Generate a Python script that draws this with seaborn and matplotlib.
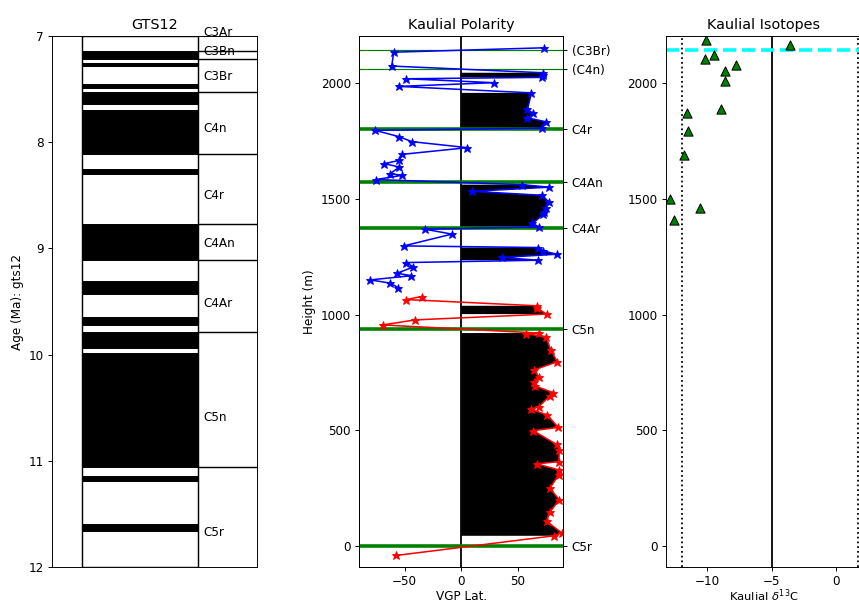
import numpy as np
import pandas as pd
import matplotlib
matplotlib.use("Agg")
import matplotlib.pyplot as plt
import seaborn as sns

sns.set_style("ticks", {"axes.edgecolor": "black", "text.color": "black",
                        "axes.labelcolor": "black", "xtick.color": "black",
                        "ytick.color": "black"})
plt.rcParams["font.family"] = ["DejaVu Sans"]

# ---- GTS12 timescale (Ma) ----
normal_top = [7.140, 7.251, 7.454, 7.528, 7.695, 8.254, 8.771, 9.311, 9.647, 9.786, 9.984, 11.146, 11.592]
normal_base = [7.212, 7.285, 7.489, 7.642, 8.108, 8.300, 9.105, 9.426, 9.721, 9.937, 11.056, 11.188, 11.657]
chron_bounds = [7.140, 7.212, 7.528, 8.108, 8.771, 9.105, 9.786, 11.056]
chron_names = ["C3Ar", "C3Bn", "C3Br", "C4n", "C4r", "C4An", "C4Ar", "C5n", "C5r"]
chron_label_age = [6.965, 7.15, 7.38, 7.875, 8.505, 8.95, 9.515, 10.595, 11.675]

# ---- Kaulial section: VGP latitude vs height ----
upper_h = [1116, 1136, 1150, 1168, 1179, 1206, 1225, 1235, 1247, 1261, 1276, 1290, 1297,
           1348, 1369, 1379, 1394, 1434, 1444, 1463, 1487, 1516, 1533, 1551, 1562, 1584,
           1602, 1610, 1638, 1653, 1667, 1693, 1722, 1748, 1769, 1797, 1806, 1834, 1851,
           1870, 1888, 1959, 1987, 2003, 2020, 2026, 2036, 2046, 2075, 2135, 2154]
upper_vgp = [-55.5, -62.8, -80.3, -44.2, -56.6, -42.2, -48.7, 67.3, 35.9, 84.1, 72.2, 67.3, -50.8,
             -8.3, -31.9, 68.7, 62.8, 72.5, 73.1, 74.3, 77.3, 71.1, 9.7, 77.3, 53.6, -75.2,
             -52.5, -62.6, -54.6, -67.9, -54.6, -52.2, 5.3, -43.7, -54.6, -76.1, 70.8, 74.6, 58.4,
             63.4, 58.4, 61.9, -55.2, 28.9, -48.7, 71.5, 72.0, 71.8, -61.4, -59.6, 73.1]
lower_h = [-42, 43, 56, 106, 145, 199, 249, 308, 328, 354, 364, 415, 438, 498, 512, 566,
           590, 602, 648, 662, 692, 707, 731, 760, 796, 847, 905, 916, 920, 955, 977,
           1002, 1028, 1038, 1065, 1078]
lower_vgp = [-57.5, 81.9, 88.5, 75.2, 78.1, 86.4, 78.1, 86.1, 86.1, 66.4, 86.1, 86.4, 84.1, 63.4, 85.5, 75.8,
             61.3, 68.4, 78.1, 81.1, 64.6, 64.3, 68.4, 64.0, 84.6, 79.0, 74.6, 57.5, 68.4, -69.4, -40.7,
             75.2, 66.7, 66.4, -48.7, -34.9]

# correlated chron boundaries in the section (m)
tie_h = [2143, 2061, 1803, 1574, 1376, 937, 0]
tie_names = ["(C3Br)", "(C4n)", "C4r", "C4An", "C4Ar", "C5n", "C5r"]
tie_width = [1, 1, 3, 3, 3, 3, 3]

# ---- Kaulial carbon isotopes ----
iso_h = [2187, 2164, 2124, 2104, 2078, 2055, 2010, 1890, 1873, 1793, 1692, 1502, 1461, 1410]
iso_d13c = [-10.1, -3.6, -9.5, -10.2, -7.8, -8.6, -8.6, -8.9, -11.6, -11.5, -11.8, -12.9, -10.6, -12.6]

W, H = 859, 603
fig = plt.figure(figsize=(W / 86, H / 86), dpi=86)
bottom, height = 36 / H, 531 / H
ax_gts = fig.add_axes([52 / W, bottom, 205 / W, height])
ax_pol = fig.add_axes([359.3 / W, bottom, 204 / W, height])
ax_iso = fig.add_axes([666 / W, bottom, 196 / W, height])

# ---- timescale column ----
col_l, col_r = 0.145, 0.714
tops = np.array(normal_top)
bases = np.array(normal_base)
ax_gts.barh(y=(tops + bases) / 2, width=col_r - col_l, left=col_l, height=bases - tops,
            color="black", edgecolor="black", linewidth=0.8)
ax_gts.plot([col_l, col_l, col_r, col_r, col_l], [7, 12, 12, 7, 7], color="black", lw=1.2)
for b in chron_bounds:
    ax_gts.plot([col_r, 1.0], [b, b], color="black", lw=1.2)
for name, age in zip(chron_names, chron_label_age):
    ax_gts.text(0.74, age, name, va="center", ha="left", fontsize=10, clip_on=False)
ax_gts.set_xlim(0, 1)
ax_gts.set_ylim(12, 7)
ax_gts.set_yticks([7, 8, 9, 10, 11, 12])
ax_gts.set_xticks([])
ax_gts.set_ylabel("Age (Ma): gts12")
ax_gts.set_title("GTS12", fontsize=12)

# ---- polarity panel ----
ylim = (-92, 2205)
for hh, vv in ((upper_h, upper_vgp), (lower_h, lower_vgp)):
    hh = np.array(hh, dtype=float)
    vv = np.array(vv, dtype=float)
    ax_pol.fill_betweenx(hh, 0, vv, where=vv > 0, color="black", lw=0)
ax_pol.axvline(0, color="black", lw=1.5)
for th, lw in zip(tie_h, tie_width):
    ax_pol.axhline(th, color="green", lw=lw)
sns.lineplot(x=upper_vgp, y=upper_h, sort=False, estimator=None, color="blue", marker="*",
             markersize=7.5, markeredgecolor="blue", lw=1.3, ax=ax_pol)
sns.lineplot(x=lower_vgp, y=lower_h, sort=False, estimator=None, color="red", marker="*",
             markersize=7.5, markeredgecolor="red", lw=1.3, ax=ax_pol)
ax_pol.set_xlim(-90, 90)
ax_pol.set_ylim(*ylim)
ax_pol.set_xticks([-50, 0, 50])
ax_pol.set_yticks([0, 500, 1000, 1500, 2000])
ax_pol.set_xlabel("VGP Lat.", labelpad=1.5)
ax_pol.set_ylabel("Height (m)")
ax_pol.set_title("Kaulial Polarity", fontsize=12)
ax_tie = ax_pol.twinx()
ax_tie.set_ylim(*ylim)
ax_tie.set_yticks(tie_h)
ax_tie.set_yticklabels(tie_names)

# ---- isotope panel ----
ax_iso.axvline(-12.0, color="black", ls=":", lw=1.5)
ax_iso.axvline(1.7, color="black", ls=":", lw=1.5)
ax_iso.axvline(-5.0, color="black", lw=1.5)
ax_iso.axhline(tie_h[0], color="cyan", ls="--", lw=3)
sns.scatterplot(x=iso_d13c, y=iso_h, marker="^", s=60, color="green", edgecolor="black",
                linewidth=0.8, ax=ax_iso, zorder=3)
ax_iso.set_xlim(-13.21, 2.02)
ax_iso.set_ylim(*ylim)
ax_iso.set_xticks([-10, -5, 0])
ax_iso.set_yticks([0, 500, 1000, 1500, 2000])
ax_iso.set_xlabel(r"Kaulial $\delta^{13}$C", labelpad=-0.8, fontsize=9.6)
ax_iso.set_title("Kaulial Isotopes", fontsize=12)

fig.savefig("out.png", dpi=86)
